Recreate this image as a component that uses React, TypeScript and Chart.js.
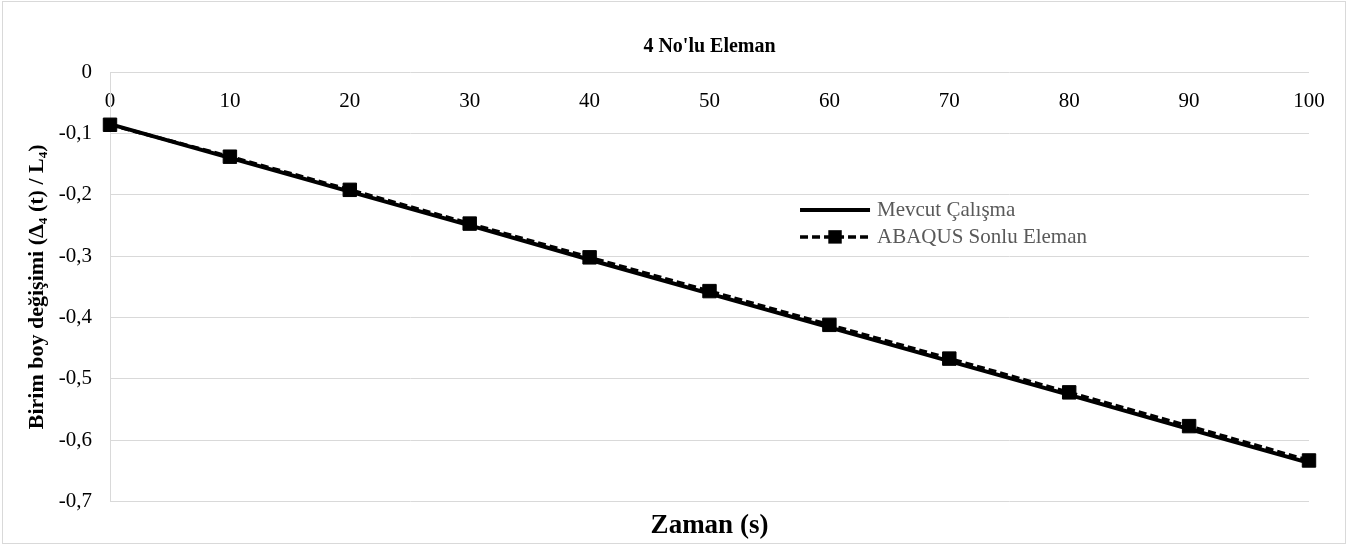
import React, { useEffect, useRef } from 'react';
import { Chart, registerables } from 'chart.js';

Chart.register(...registerables);

const timeValues = [0, 10, 20, 30, 40, 50, 60, 70, 80, 90, 100];
const mevcutValues = [-0.085, -0.140, -0.195, -0.250, -0.306, -0.361, -0.416, -0.471, -0.526, -0.582, -0.637];
const abaqusValues = [-0.086, -0.138, -0.192, -0.247, -0.302, -0.357, -0.412, -0.467, -0.522, -0.577, -0.633];
const seriesLabels = ['Mevcut Çalışma', 'ABAQUS Sonlu Eleman'];
const chartTitle = "4 No'lu Eleman";
const xAxisTitle = 'Zaman (s)';
const yAxisTitle = 'Birim boy değişimi (Δ₄ (t) / L₄)';

const FONT = "'Liberation Serif', 'Times New Roman', serif";

const formatY = (v: number) => (Math.abs(v) < 1e-9 ? '0' : v.toFixed(1).replace('.', ','));

const insideLegend = {
  id: 'insideLegend',
  afterDraw(chart: any) {
    const { ctx, chartArea } = chart;
    const w = chartArea.right - chartArea.left;
    const h = chartArea.bottom - chartArea.top;
    const x0 = chartArea.left + w * 0.5755;
    const y0 = chartArea.top + h * 0.321;
    const rowGap = 27;
    const sampleLen = 70;
    chart.data.datasets.forEach((ds: any, i: number) => {
      const y = y0 + i * rowGap;
      ctx.save();
      ctx.strokeStyle = ds.borderColor;
      ctx.lineWidth = ds.borderWidth;
      ctx.setLineDash(ds.borderDash || []);
      ctx.beginPath();
      ctx.moveTo(x0, y);
      ctx.lineTo(x0 + sampleLen, y);
      ctx.stroke();
      ctx.setLineDash([]);
      if (ds.pointRadius > 0) {
        const s = ds.pointRadius * Math.SQRT1_2;
        ctx.fillStyle = ds.pointBackgroundColor;
        ctx.fillRect(x0 + sampleLen / 2 - s, y - s, 2 * s, 2 * s);
      }
      ctx.fillStyle = '#595959';
      ctx.font = `21px ${FONT}`;
      ctx.textBaseline = 'middle';
      ctx.textAlign = 'left';
      ctx.fillText(ds.label, x0 + sampleLen + 7, y + 1);
      ctx.restore();
    });
  },
};

export default function App() {
  const canvasRef = useRef<HTMLCanvasElement | null>(null);

  useEffect(() => {
    document.body.style.margin = '0';
    const canvas = canvasRef.current;
    if (!canvas) return;
    Chart.defaults.font.family = FONT;

    const chart = new Chart(canvas, {
      type: 'line',
      data: {
        datasets: [
          {
            label: seriesLabels[0],
            data: timeValues.map((t, i) => ({ x: t, y: mevcutValues[i] })),
            borderColor: '#000000',
            backgroundColor: '#000000',
            borderWidth: 4,
            pointRadius: 0,
            tension: 0,
            clip: false,
            order: 2,
          },
          {
            label: seriesLabels[1],
            data: timeValues.map((t, i) => ({ x: t, y: abaqusValues[i] })),
            borderColor: '#000000',
            backgroundColor: '#000000',
            borderWidth: 3.5,
            borderDash: [8, 4],
            pointStyle: 'rect',
            pointRadius: 9.5,
            pointBorderWidth: 1,
            pointBackgroundColor: '#000000',
            pointBorderColor: '#000000',
            tension: 0,
            clip: false,
            order: 1,
          },
        ],
      },
      options: {
        responsive: false,
        animation: false,
        layout: { padding: { top: 30, right: 46, bottom: 3, left: 20 } },
        plugins: {
          legend: { display: false },
          tooltip: { enabled: false },
          title: {
            display: true,
            text: chartTitle,
            fullSize: false,
            color: '#000000',
            font: { size: 20, weight: 'bold', family: FONT },
            padding: { top: 5, bottom: 13 },
          },
        },
        scales: {
          x: {
            type: 'linear',
            min: 0,
            max: 100,
            position: { y: 0 } as any,
            grid: { display: false },
            border: { display: false },
            ticks: {
              stepSize: 10,
              padding: 9,
              autoSkip: false,
              maxRotation: 0,
              color: '#000000',
              font: { size: 21, family: FONT },
            },
          },
          xTitle: {
            type: 'linear',
            position: 'bottom',
            min: 0,
            max: 100,
            grid: { display: false },
            border: { display: false },
            ticks: { display: false },
            title: {
              display: true,
              text: xAxisTitle,
              color: '#000000',
              font: { size: 27, weight: 'bold', family: FONT },
              padding: { top: 0, bottom: 0 },
            },
          },
          y: {
            type: 'linear',
            position: 'left',
            min: -0.7,
            max: 0,
            afterFit: (scale: any) => {
              scale.width = 90;
            },
            grid: { color: '#d9d9d9', lineWidth: 1, drawTicks: false },
            border: { color: '#d9d9d9', width: 1 },
            ticks: {
              stepSize: 0.1,
              padding: 18,
              color: '#000000',
              font: { size: 21, family: FONT },
              callback: (v: any) => formatY(Number(v)),
            },
            title: {
              display: true,
              text: yAxisTitle,
              color: '#000000',
              font: { size: 22, weight: 'bold', family: FONT },
              padding: { top: 4, bottom: 0 },
            },
          },
        },
      },
      plugins: [insideLegend],
    } as any);

    return () => chart.destroy();
  }, []);

  return (
    <div style={{ position: 'relative', width: 1355, height: 545 }}>
      <div
        style={{
          position: 'absolute',
          left: 2,
          top: 1,
          width: 1344,
          height: 543,
          border: '1px solid #d9d9d9',
          boxSizing: 'border-box',
        }}
      />
      <canvas
        ref={canvasRef}
        width={1355}
        height={545}
        style={{ position: 'absolute', left: 0, top: 0, width: 1355, height: 545 }}
      />
    </div>
  );
}
